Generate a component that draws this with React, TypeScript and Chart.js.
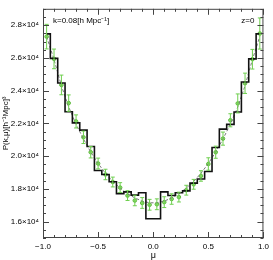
import React, { useEffect, useRef } from "react";
import { Chart, registerables } from "chart.js";

Chart.register(...registerables);

// mu bin centres (30 bins)
const muCenters = [
  -0.967, -0.9, -0.833, -0.767, -0.7, -0.633, -0.567, -0.5, -0.433, -0.367,
  -0.3, -0.233, -0.167, -0.1, -0.033, 0.033, 0.1, 0.167, 0.233, 0.3,
  0.367, 0.433, 0.5, 0.567, 0.633, 0.7, 0.767, 0.833, 0.9, 0.967,
];

// black histogram (measurement)
const histValues = [
  27470, 25970, 24470, 22710, 22030, 21590, 20590, 19120, 18880, 18440,
  17710, 17820, 17620, 17760, 16180, 16180, 17820, 17600, 17760, 17880,
  18350, 18600, 19060, 20530, 21650, 21940, 22700, 24530, 25940, 27470,
];

// green points (mean of mocks) and their errors
const mockValues = [
  27300, 25940, 24350, 23240, 22120, 21150, 20240, 19550, 18880, 18420,
  18080, 17590, 17290, 17140, 17030, 17060, 17190, 17380, 17500, 17920,
  18280, 18790, 19520, 20240, 21070, 22190, 23220, 24450, 25920, 27490,
];
const mockErrors = [
  750, 600, 600, 500, 400, 380, 350, 330, 320, 300,
  300, 300, 320, 330, 330, 330, 330, 320, 300, 300,
  300, 320, 380, 370, 400, 400, 580, 620, 600, 950,
];

// grey dashed model curve
const modelValues = [
  27300, 25900, 24300, 23000, 21950, 21050, 20250, 19550, 18950, 18450,
  18050, 17700, 17450, 17250, 17150, 17150, 17250, 17450, 17700, 18050,
  18450, 18950, 19550, 20250, 21050, 21950, 23000, 24300, 25900, 27300,
];

const xMajorTicks = [-1, -0.5, 0, 0.5, 1];
const xMinorTicks = [
  -1, -0.9, -0.8, -0.7, -0.6, -0.5, -0.4, -0.3, -0.2, -0.1, 0,
  0.1, 0.2, 0.3, 0.4, 0.5, 0.6, 0.7, 0.8, 0.9, 1,
];
const yMajorTicks = [16000, 18000, 20000, 22000, 24000, 26000, 28000];
const yMinorTicks = [
  15000, 15500, 16000, 16500, 17000, 17500, 18000, 18500, 19000, 19500,
  20000, 20500, 21000, 21500, 22000, 22500, 23000, 23500, 24000, 24500,
  25000, 25500, 26000, 26500, 27000, 27500, 28000, 28500, 29000,
];

const FONT = "'Liberation Sans', Arial, Helvetica, sans-serif";

const framePlugin = {
  id: "frameTicks",
  afterDatasetsDraw(chart: any) {
    const { ctx, chartArea: a, scales } = chart;
    const x = scales.x;
    const y = scales.y;
    ctx.save();
    // error bars
    ctx.strokeStyle = "#6fcf4f";
    ctx.lineWidth = 1;
    muCenters.forEach((m, i) => {
      const px = x.getPixelForValue(m);
      const y1 = y.getPixelForValue(mockValues[i] + mockErrors[i]);
      const y2 = y.getPixelForValue(mockValues[i] - mockErrors[i]);
      ctx.beginPath();
      ctx.moveTo(px, y1);
      ctx.lineTo(px, y2);
      ctx.moveTo(px - 2, y1);
      ctx.lineTo(px + 2, y1);
      ctx.moveTo(px - 2, y2);
      ctx.lineTo(px + 2, y2);
      ctx.stroke();
    });
    ctx.restore();
  },
  afterDraw(chart: any) {
    const { ctx, chartArea: a, scales } = chart;
    const x = scales.x;
    const y = scales.y;
    ctx.save();
    ctx.strokeStyle = "#444";
    ctx.lineWidth = 1;
    ctx.strokeRect(a.left + 0.5, a.top + 0.5, a.right - a.left - 1, a.bottom - a.top - 1);
    ctx.beginPath();
    xMinorTicks.forEach((v) => {
      const px = Math.round(x.getPixelForValue(v)) + 0.5;
      const len = xMajorTicks.some((m) => Math.abs(m - v) < 1e-6) ? 6 : 3;
      ctx.moveTo(px, a.bottom);
      ctx.lineTo(px, a.bottom - len);
      ctx.moveTo(px, a.top);
      ctx.lineTo(px, a.top + len);
    });
    yMinorTicks.forEach((v) => {
      const py = Math.round(y.getPixelForValue(v)) + 0.5;
      const len = yMajorTicks.includes(v) ? 6 : 3;
      ctx.moveTo(a.left, py);
      ctx.lineTo(a.left + len, py);
      ctx.moveTo(a.right, py);
      ctx.lineTo(a.right - len, py);
    });
    ctx.stroke();
    ctx.fillStyle = "#000";
    ctx.font = `8px ${FONT}`;
    ctx.textBaseline = "middle";
    ctx.textAlign = "left";
    ctx.fillText("k=0.08[h Mpc⁻¹]", a.left + 10, a.top + 12);
    ctx.textAlign = "right";
    ctx.fillText("z=0", a.right - 9, a.top + 12);
    ctx.restore();
  },
};

export default function App() {
  const ref = useRef<HTMLCanvasElement>(null);
  useEffect(() => {
    if (!ref.current) return;
    const chart = new Chart(ref.current, {
      type: "line",
      data: {
        datasets: [
          {
            label: "measurement",
            data: muCenters.map((m, i) => ({ x: m, y: histValues[i] })),
            stepped: "middle",
            borderColor: "#111",
            borderWidth: 1.6,
            pointRadius: 0,
            fill: false,
          },
          {
            label: "model",
            data: muCenters.map((m, i) => ({ x: m, y: modelValues[i] })),
            borderColor: "#777",
            borderDash: [3, 2],
            borderWidth: 1,
            pointRadius: 0,
            fill: false,
          },
          {
            label: "mocks",
            data: muCenters.map((m, i) => ({ x: m, y: mockValues[i] })),
            showLine: false,
            pointRadius: 1.8,
            pointBackgroundColor: "#8fe070",
            pointBorderColor: "#5cb83c",
            pointBorderWidth: 1,
          },
        ],
      } as any,
      options: {
        animation: false,
        responsive: false,
        maintainAspectRatio: false,
        layout: { padding: { top: 1, right: 7, left: 0, bottom: 0 } },
        plugins: { legend: { display: false }, tooltip: { enabled: false } },
        scales: {
          x: {
            type: "linear",
            min: -1,
            max: 1,
            grid: { display: false, drawTicks: false },
            border: { display: false },
            afterBuildTicks: (s: any) => {
              s.ticks = xMajorTicks.map((v) => ({ value: v }));
            },
            ticks: {
              padding: 4,
              color: "#000",
              maxRotation: 0,
              autoSkip: false,
              font: { family: FONT, size: 8 },
              callback: (v: any) => Number(v).toFixed(1).replace("-", "−"),
            },
            title: {
              display: true,
              text: "μ",
              color: "#000",
              font: { family: FONT, size: 9 },
              padding: { top: 0, bottom: -1 },
            },
            afterFit: (s: any) => {
              s.height = 22;
            },
          },
          y: {
            type: "linear",
            min: 15000,
            max: 29000,
            grid: { display: false, drawTicks: false },
            border: { display: false },
            afterBuildTicks: (s: any) => {
              s.ticks = yMajorTicks.map((v) => ({ value: v }));
            },
            ticks: {
              padding: 4,
              color: "#000",
              autoSkip: false,
              font: { family: FONT, size: 8 },
              callback: (v: any) => (Number(v) / 10000).toFixed(1) + "×10⁴",
            },
            title: {
              display: true,
              text: "P(k,μ)[h⁻¹Mpc]³",
              color: "#000",
              font: { family: FONT, size: 8 },
              padding: { top: 1, bottom: 0 },
            },
            afterFit: (s: any) => {
              s.width = 43;
            },
          },
        },
      } as any,
      plugins: [framePlugin],
    });
    return () => chart.destroy();
  }, []);
  return (
    <div style={{ position: "absolute", left: 0, top: 0, width: 273, height: 260, background: "#fff" }}>
      <canvas ref={ref} width={273} height={260} style={{ display: "block", width: 273, height: 260 }} />
    </div>
  );
}
